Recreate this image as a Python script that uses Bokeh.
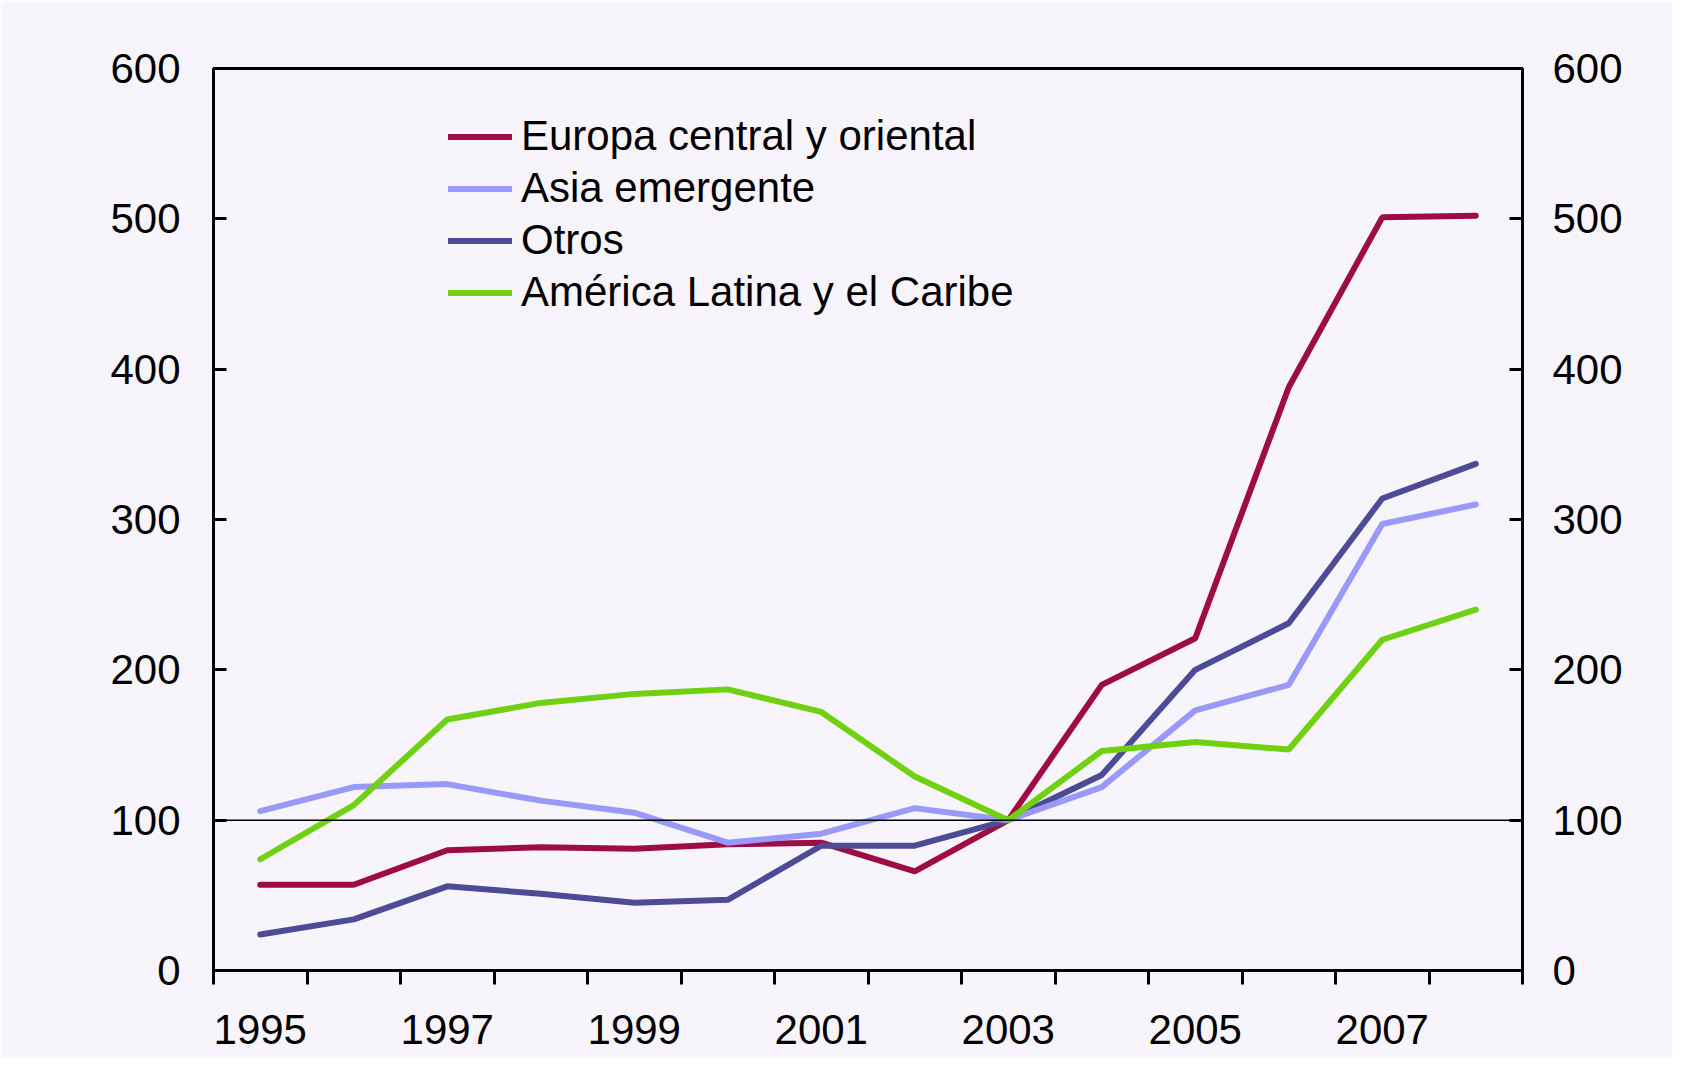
from bokeh.plotting import figure
from bokeh.models import LinearAxis, FixedTicker, Span, Legend, LegendItem, Range1d
from bokeh.embed import file_html
from bokeh.resources import INLINE

# ---- data ----
years = [1995, 1996, 1997, 1998, 1999, 2000, 2001, 2002, 2003, 2004, 2005, 2006, 2007, 2008]
europa = [57, 57, 80, 82, 81, 84, 85, 66, 100, 190, 221, 388, 501, 502]
asia = [106, 122, 124, 113, 105, 85, 91, 108, 100, 122, 173, 190, 297, 310]
otros = [24, 34, 56, 51, 45, 47, 83, 83, 100, 130, 200, 231, 314, 337]
latam = [74, 110, 167, 178, 184, 187, 172, 129, 100, 146, 152, 147, 220, 240]

series_names = ["Europa central y oriental", "Asia emergente", "Otros", "América Latina y el Caribe"]
x_labels = [1995, 1997, 1999, 2001, 2003, 2005, 2007]
y_ticks = [0, 100, 200, 300, 400, 500, 600]
base_value = 100

BG = "#f8f4fc"
FONT = "Liberation Sans"
FS = "42px"
C_EUR = "#9e0c46"
C_ASIA = "#9999fa"
C_OTROS = "#4d4b96"
C_LAT = "#70d012"

p = figure(width=1672, height=1058,
           x_range=Range1d(years[0] - 0.5, years[-1] + 0.5),
           y_range=Range1d(y_ticks[0], y_ticks[-1]),
           output_backend="svg", toolbar_location=None,
           min_border_left=213, min_border_right=150,
           min_border_top=68, min_border_bottom=88,
           background_fill_color=BG, border_fill_color=BG)

p.xgrid.visible = False
p.ygrid.visible = False
p.outline_line_color = "black"
p.outline_line_width = 3
p.outline_line_alpha = 1

# bottom axis: labels every other year, ticks at year boundaries
xa = p.xaxis[0]
xa.ticker = FixedTicker(ticks=x_labels,
                        minor_ticks=[y - 0.5 for y in years] + [years[-1] + 0.5])
xa.major_label_overrides = {y: str(y) for y in x_labels}
xa.major_tick_out = 0
xa.major_tick_in = 0
xa.minor_tick_out = 14
xa.minor_tick_in = 0
xa.minor_tick_line_width = 3
xa.minor_tick_line_color = "black"
xa.axis_line_width = 3
xa.axis_line_color = "black"
xa.major_label_text_font = FONT
xa.major_label_text_font_size = FS
xa.major_label_text_color = "black"
xa.major_label_standoff = 30

# left axis
ya = p.yaxis[0]
ya.ticker = FixedTicker(ticks=y_ticks, minor_ticks=[])
ya.major_tick_out = 0
ya.major_tick_in = 13
ya.major_tick_line_width = 3
ya.minor_tick_out = 0
ya.minor_tick_in = 0
ya.axis_line_width = 3
ya.major_label_text_font = FONT
ya.major_label_text_font_size = FS
ya.major_label_text_color = "black"
ya.major_label_standoff = 33

# right axis
ra = LinearAxis(ticker=FixedTicker(ticks=y_ticks, minor_ticks=[]))
ra.major_tick_out = 0
ra.major_tick_in = 13
ra.major_tick_line_width = 3
ra.minor_tick_out = 0
ra.minor_tick_in = 0
ra.axis_line_width = 3
ra.major_label_text_font = FONT
ra.major_label_text_font_size = FS
ra.major_label_text_color = "black"
ra.major_label_standoff = 30
p.add_layout(ra, "right")

# base line at 100
p.add_layout(Span(location=base_value, dimension="width", line_color="black", line_width=1.5))

lw = 6
r_eur = p.line(years, europa, line_color=C_EUR, line_width=lw, line_cap="round")
r_otr = p.line(years, otros, line_color=C_OTROS, line_width=lw, line_cap="round")
r_asia = p.line(years, asia, line_color=C_ASIA, line_width=lw, line_cap="round")
r_lat = p.line(years, latam, line_color=C_LAT, line_width=lw, line_cap="round")

legend = Legend(items=[LegendItem(label=series_names[0], renderers=[r_eur]),
                       LegendItem(label=series_names[1], renderers=[r_asia]),
                       LegendItem(label=series_names[2], renderers=[r_otr]),
                       LegendItem(label=series_names[3], renderers=[r_lat])],
                location=(235, 654))
legend.background_fill_alpha = 0
legend.border_line_alpha = 0
legend.padding = 0
legend.margin = 0
legend.spacing = 4
legend.glyph_width = 64
legend.glyph_height = 47
legend.label_height = 47
legend.label_standoff = 9
legend.label_text_font = FONT
legend.label_text_font_size = FS
legend.label_text_color = "black"
p.add_layout(legend, "center")

open("out.html", "w").write(file_html(p, INLINE))
